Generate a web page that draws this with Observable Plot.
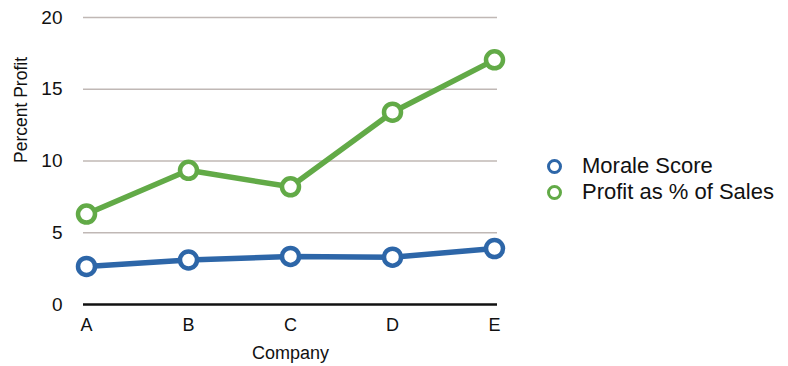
<!DOCTYPE html>
<html>
<head>
<meta charset="utf-8">
<script src="https://cdn.jsdelivr.net/npm/d3@7"></script>
<script src="https://cdn.jsdelivr.net/npm/@observablehq/plot@0.6"></script>
<style>
  html, body { margin: 0; padding: 0; background: #fff; }
  #wrap { position: relative; width: 788px; height: 366px; font-family: "Liberation Sans", Arial, sans-serif; }
  #legend { position: absolute; left: 547px; top: 153px; font-size: 22px; color: #111; line-height: 26px; }
  .item { display: flex; align-items: center; }
  .sw { width: 9px; height: 9px; border-radius: 50%; border: 3.5px solid; background: #fff; margin-right: 20px; }
</style>
</head>
<body>
<div id="wrap"></div>
<script>
const companies = ["A", "B", "C", "D", "E"];
const seriesNames = ["Morale Score", "Profit as % of Sales"];
const morale = [2.65, 3.1, 3.35, 3.3, 3.9];
const profit = [6.3, 9.35, 8.2, 13.4, 17.05];
const colors = ["#2d66a8", "#62aa47"];
const yTicks = [0, 5, 10, 15, 20];

const data = [
  ...companies.map((c, i) => ({company: c, value: morale[i], series: seriesNames[0]})),
  ...companies.map((c, i) => ({company: c, value: profit[i], series: seriesNames[1]}))
];

const chart = Plot.plot({
  width: 788,
  height: 366,
  marginLeft: 83,
  marginRight: 291,
  marginTop: 17,
  marginBottom: 62,
  style: {fontFamily: "Liberation Sans, Arial, sans-serif", fontSize: "18px", color: "#111", background: "#fff"},
  x: {type: "point", domain: companies, padding: 0.02, label: null},
  y: {domain: [0, 20], label: null},
  color: {domain: seriesNames, range: colors},
  marks: [
    Plot.ruleY(yTicks.filter(d => d > 0), {stroke: "#c0b8b5", strokeWidth: 1.4}),
    Plot.ruleY([0], {stroke: "#111", strokeWidth: 2.5}),
    Plot.axisY(yTicks, {tickSize: 0, tickPadding: 21, fontSize: 19, label: null}),
    Plot.axisX({tickSize: 0, tickPadding: 14, fontSize: 18, label: null}),
    Plot.text(["Percent Profit"], {frameAnchor: "left", dx: -62, dy: 2, rotate: -90, fontSize: 17.5}),
    Plot.text(["Company"], {frameAnchor: "bottom", dy: 54, fontSize: 18}),
    Plot.lineY(data, {x: "company", y: "value", z: "series", stroke: "series", strokeWidth: 5.5}),
    Plot.dot(data, {x: "company", y: "value", stroke: "series", fill: "#fff", r: 8.5, strokeWidth: 4.5})
  ]
});

const wrap = document.getElementById("wrap");
wrap.appendChild(chart);
const legend = document.createElement("div");
legend.id = "legend";
seriesNames.forEach((s, i) => {
  const it = document.createElement("div");
  it.className = "item";
  const sw = document.createElement("span");
  sw.className = "sw";
  sw.style.borderColor = colors[i];
  const t = document.createElement("span");
  t.textContent = s;
  it.appendChild(sw); it.appendChild(t);
  legend.appendChild(it);
});
wrap.appendChild(legend);
</script>
</body>
</html>
